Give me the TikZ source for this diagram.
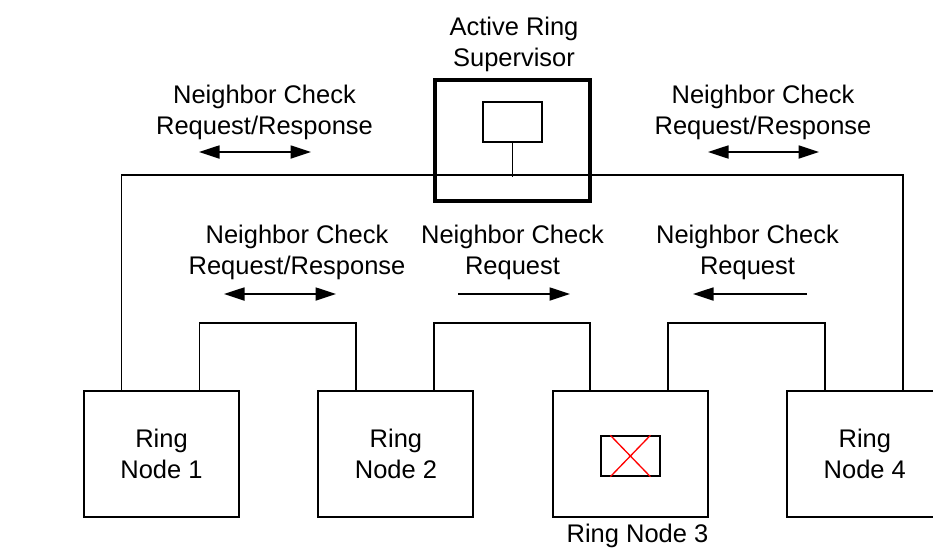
\documentclass[tikz,border=0pt]{standalone}
\usepackage{fontspec}
\setmainfont{Liberation Sans}
\usetikzlibrary{positioning, arrows.meta}

\begin{document}
\begin{tikzpicture}
    [
      RINGNODE/.style={rectangle, draw=black, line width = 1.1pt, minimum width = 31mm, minimum height = 25.2mm, align = center, inner sep = 0pt, font = \fontsize{14.5}{17.6}\selectfont},
      SUPERVISOR/.style={rectangle, draw=black, line width = 2.4pt, minimum width = 31mm, minimum height = 24.2mm},
      SMALLRECT/.style={rectangle, draw=black, line width = 0.75pt, minimum width = 11.8mm, minimum height = 8mm, inner sep = 0pt},
      LABEL/.style={align = center, anchor = north, inner sep = 0pt, font = \fontsize{14.5}{17.6}\selectfont},
      WIRE/.style={line width = 1.1pt, black},
      MSG/.style={line width = 1pt, black},
      >={Triangle[length = 4.1mm, width = 2.6mm]},
    ]

    \useasboundingbox (0, 0) rectangle (18.66, -10.94);

    \node[RINGNODE] (ringA) at (3.23, -9.08) {Ring\\Node 1};
    \node[RINGNODE] (ringB) [right = 1.55cm of ringA] {Ring\\Node 2};
    \node[RINGNODE] (ringC) [right = 1.55cm of ringB] {};
    \node[RINGNODE] (ringD) [right = 1.55cm of ringC] {Ring\\Node 4};
    \node[LABEL] (ringCLabel) at (12.75, -10.47) {Ring Node 3};
    \node[SMALLRECT] (failedUnit) at ([yshift = -0.4mm]ringC) {};

    \node[SUPERVISOR] (supervisor) at (10.25, -2.81) {};
    \node[SMALLRECT] (supervisorUnit) at (10.25, -2.44) {};
    \node[LABEL] (supervisorLabel) at (10.28, -0.33) {Active Ring\\Supervisor};

    \node[LABEL] (checkTopLeft) at (5.29, -1.69) {Neighbor Check\\Request/Response};
    \node[LABEL] (checkTopRight) at (15.26, -1.69) {Neighbor Check\\Request/Response};
    \node[LABEL] (checkMidLeft) at (5.94, -4.49) {Neighbor Check\\Request/Response};
    \node[LABEL] (checkMidCenter) at (10.25, -4.49) {Neighbor Check\\Request};
    \node[LABEL] (checkMidRight) at (14.95, -4.49) {Neighbor Check\\Request};

    \coordinate (msgTopLeftA) at (3.98, -3.04);
    \coordinate (msgTopLeftB) at (6.22, -3.04);
    \coordinate (msgTopRightA) at (14.16, -3.04);
    \coordinate (msgTopRightB) at (16.38, -3.04);
    \coordinate (msgMidLeftA) at (4.48, -5.88);
    \coordinate (msgMidLeftB) at (6.72, -5.88);
    \coordinate (msgMidCenterA) at (9.16, -5.88);
    \coordinate (msgMidCenterB) at (11.40, -5.88);
    \coordinate (msgMidRightA) at (16.14, -5.88);
    \coordinate (msgMidRightB) at (13.86, -5.88);

    \draw[ WIRE] ([xshift = -8mm]ringA.north) -- ++(0, 4.3) -| ([xshift = 7.6mm]ringD.north);
    \draw[ WIRE] ([xshift = 7.6mm]ringA.north) -- ++(0, 1.34) -| ([xshift = -8mm]ringB.north);
    \draw[ WIRE] ([xshift = 7.6mm]ringB.north) -- ++(0, 1.34) -| ([xshift = -8mm]ringC.north);
    \draw[ WIRE] ([xshift = 7.6mm]ringC.north) -- ++(0, 1.34) -| ([xshift = -8mm]ringD.north);
    \draw[ WIRE] (supervisorUnit.south) -- ++(0, -0.68);

    \draw[ red, line width = 0.75pt] ([xshift = -4mm]failedUnit.north) -- ([xshift = 4mm]failedUnit.south);
    \draw[ red, line width = 0.75pt] ([xshift = 4mm]failedUnit.north) -- ([xshift = -4mm]failedUnit.south);

    \draw[ <->, MSG] (msgTopLeftA) to (msgTopLeftB);
    \draw[ <->, MSG] (msgTopRightA) to (msgTopRightB);
    \draw[ <->, MSG] (msgMidLeftA) to (msgMidLeftB);
    \draw[ ->, MSG] (msgMidCenterA) to (msgMidCenterB);
    \draw[ ->, MSG] (msgMidRightA) to (msgMidRightB);

  \end{tikzpicture}
\end{document}
